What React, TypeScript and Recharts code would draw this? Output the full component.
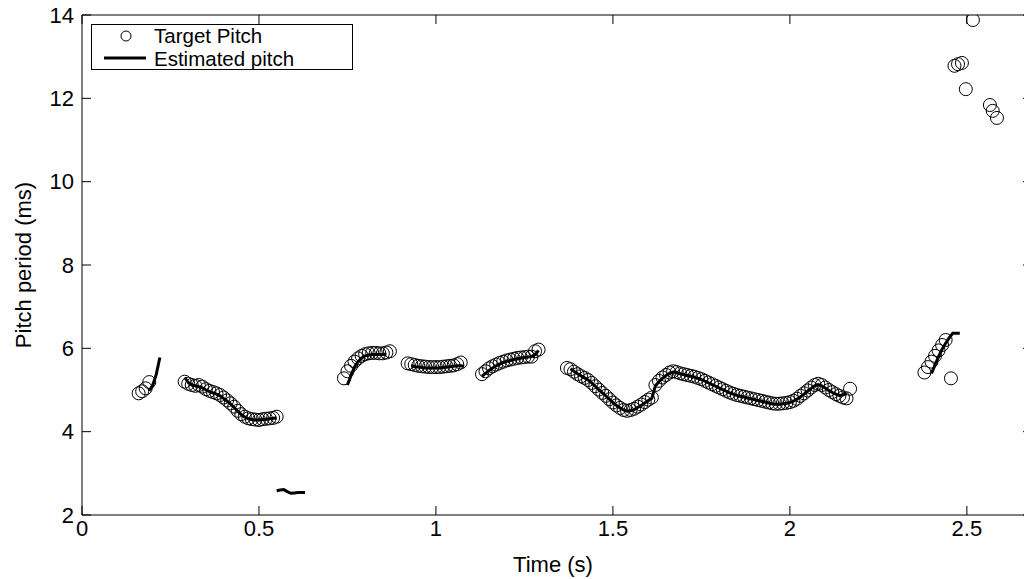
import { ComposedChart, Scatter, Line, XAxis, YAxis, Label } from "recharts"

const FONT = "'Liberation Sans', Arial, Helvetica, sans-serif"
const FRAME = 0.01 // 10 ms analysis hop

const X_MAX = 2.684
const X_TICKS = [0, 0.5, 1, 1.5, 2, 2.5]
const Y_TICKS = [2, 4, 6, 8, 10, 12, 14]

// target pitch (circles), each voiced run starts at a frame time
const target1 = [4.92, 4.97, 5.04, 5.19]
const target2 = [
  5.2, 5.15, 5.12, 5.1, 5.12, 5.08, 5.02, 4.98, 4.95, 4.92, 4.88, 4.82, 4.75, 4.68, 4.6, 4.5, 4.42, 4.36, 4.32,
  4.3, 4.29, 4.28, 4.3, 4.31, 4.32, 4.33, 4.36,
]
const target3 = [5.28, 5.45, 5.58, 5.68, 5.76, 5.82, 5.86, 5.88, 5.89, 5.89, 5.88, 5.88, 5.9, 5.93]
const target4 = [5.64, 5.62, 5.6, 5.58, 5.57, 5.56, 5.55, 5.55, 5.55, 5.55, 5.56, 5.57, 5.58, 5.59, 5.62, 5.66]
const target5 = [5.38, 5.45, 5.52, 5.57, 5.61, 5.65, 5.68, 5.71, 5.73, 5.75, 5.77, 5.78, 5.79, 5.8, 5.8, 5.93, 5.97]
const target6 = [
  5.53, 5.5, 5.44, 5.38, 5.33, 5.29, 5.24, 5.17, 5.09, 5.01, 4.93, 4.86, 4.78, 4.7, 4.63, 4.57, 4.52, 4.5, 4.52,
  4.55, 4.6, 4.65, 4.71, 4.77, 4.82, 5.12, 5.22, 5.3, 5.36, 5.42, 5.45, 5.43, 5.4, 5.38, 5.36, 5.34, 5.32, 5.29,
  5.26, 5.22, 5.18, 5.14, 5.1, 5.06, 5.02, 4.98, 4.94, 4.91, 4.88, 4.86, 4.84, 4.82, 4.8, 4.78, 4.76, 4.74, 4.72,
  4.7, 4.68, 4.67, 4.67, 4.68, 4.69, 4.71, 4.74, 4.79, 4.86, 4.92, 4.99, 5.06, 5.12, 5.15, 5.12, 5.06, 5.0, 4.95,
  4.9, 4.86, 4.82, 4.8, 5.03,
]
const target7 = [5.42, 5.55, 5.68, 5.82, 5.95, 6.08, 6.2]
// octave errors / stray frames at the end
const targetStrayT = [2.455, 2.465, 2.475, 2.486, 2.497, 2.517, 2.565, 2.573, 2.585]
const targetStrayV = [5.28, 12.78, 12.82, 12.85, 12.22, 13.88, 11.84, 11.7, 11.53]

// estimated pitch (solid line)
const est1 = [4.98, 5.12, 5.38, 5.78]
const est2 = [
  5.3, 5.18, 5.12, 5.1, 5.08, 5.05, 5.0, 4.96, 4.93, 4.9, 4.86, 4.8, 4.73, 4.66, 4.58, 4.49, 4.41, 4.35, 4.31, 4.29,
  4.28, 4.28, 4.29, 4.3, 4.31, 4.32, 4.33,
]
const estLow = [2.58, 2.6, 2.61, 2.56, 2.52, 2.53, 2.54, 2.54, 2.54]
const est3 = [5.12, 5.35, 5.55, 5.68, 5.77, 5.82, 5.84, 5.85, 5.85, 5.85, 5.85, 5.86]
const est4 = [5.58, 5.56, 5.55, 5.54, 5.53, 5.53, 5.53, 5.53, 5.53, 5.54, 5.55, 5.56, 5.57, 5.58, 5.58, 5.57]
const est5 = [5.33, 5.4, 5.47, 5.53, 5.58, 5.62, 5.66, 5.69, 5.71, 5.73, 5.75, 5.77, 5.78, 5.79, 5.8, 5.85, 5.95]
const est6 = [
  5.51, 5.45, 5.39, 5.34, 5.29, 5.24, 5.17, 5.09, 5.01, 4.93, 4.86, 4.78, 4.7, 4.63, 4.57, 4.52, 4.49, 4.5, 4.53,
  4.58, 4.63, 4.69, 4.75, 4.8, 5.1, 5.2, 5.28, 5.35, 5.4, 5.43, 5.42, 5.39, 5.37, 5.35, 5.33, 5.31, 5.28, 5.25,
  5.21, 5.17, 5.13, 5.09, 5.05, 5.01, 4.97, 4.93, 4.9, 4.87, 4.85, 4.83, 4.81, 4.79, 4.77, 4.75, 4.73, 4.71, 4.69,
  4.67, 4.66, 4.66, 4.67, 4.68, 4.7, 4.73, 4.78, 4.84, 4.9, 4.97, 5.04, 5.1, 5.13, 5.1, 5.05, 4.99, 4.94, 4.9, 4.87,
  4.88, 4.92,
]
const est7 = [5.4, 5.6, 5.8, 5.98, 6.12, 6.25, 6.36, 6.36, 6.36]

type Pt = { t: number; v: number }

const toPoints = (start: number, values: number[]): Pt[] =>
  values.map((v, i) => ({ t: +(start + i * FRAME).toFixed(3), v }))

const targetPoints: Pt[] = [
  ...toPoints(0.16, target1),
  ...toPoints(0.29, target2),
  ...toPoints(0.74, target3),
  ...toPoints(0.92, target4),
  ...toPoints(1.13, target5),
  ...toPoints(1.37, target6),
  ...toPoints(2.38, target7),
  ...targetStrayT.map((t, i) => ({ t, v: targetStrayV[i] })),
]

const estSegments: Pt[][] = [
  toPoints(0.19, est1),
  toPoints(0.29, est2),
  toPoints(0.55, estLow),
  toPoints(0.75, est3),
  toPoints(0.93, est4),
  toPoints(1.13, est5),
  toPoints(1.38, est6),
  toPoints(2.4, est7),
]

const FS = 22
const axisStyle = { stroke: "#000", strokeWidth: 1 }
const tickStyle = { fill: "#000", fontSize: FS, fontFamily: FONT }

const OpenCircle = (p: any) => <circle cx={p.cx} cy={p.cy} r={6.5} fill="none" stroke="#000" strokeWidth={1} />

function LegendBox() {
  return (
    <svg width={262} height={46} style={{ position: "absolute", left: 91, top: 24, overflow: "visible" }}>
      <rect x={0.5} y={0.5} width={261} height={45} fill="#fff" stroke="#000" />
      <circle cx={35} cy={12} r={5} fill="none" stroke="#000" />
      <text x={63} y={11.5} dominantBaseline="central" fontSize={20.5} fontFamily={FONT} fill="#000">
        Target Pitch
      </text>
      <line x1={13} x2={55} y1={34} y2={34} stroke="#000" strokeWidth={3} />
      <text x={63} y={34} dominantBaseline="central" fontSize={20.5} fontFamily={FONT} fill="#000">
        Estimated pitch
      </text>
    </svg>
  )
}

export default function App() {
  return (
    <div
      style={{
        position: "absolute",
        left: 0,
        top: 0,
        width: 1024,
        height: 579,
        overflow: "hidden",
        background: "#fff",
      }}
    >
      <ComposedChart width={1033} height={579} margin={{ top: 14, right: 0, bottom: 0, left: 0 }}>
        <XAxis
          dataKey="t"
          type="number"
          domain={[0, X_MAX]}
          ticks={X_TICKS}
          allowDataOverflow
          height={64}
          tickSize={-9}
          tickMargin={14}
          axisLine={axisStyle}
          tickLine={axisStyle}
          tick={tickStyle}
        >
          <Label
            content={(props: any) => {
              const { x, y, width, height } = props.viewBox
              return (
                <text x={x + width / 2 - 4} y={y + height - 7} textAnchor="middle" fontSize={FS} fontFamily={FONT} fill="#000">
                  Time (s)
                </text>
              )
            }}
          />
        </XAxis>
        <XAxis
          xAxisId="top"
          orientation="top"
          dataKey="t"
          type="number"
          domain={[0, X_MAX]}
          ticks={X_TICKS}
          allowDataOverflow
          height={1}
          tickSize={-9}
          tickFormatter={() => ""}
          axisLine={axisStyle}
          tickLine={axisStyle}
        />
        <YAxis
          dataKey="v"
          type="number"
          domain={[2, 14]}
          ticks={Y_TICKS}
          allowDataOverflow
          width={82}
          tickSize={-9}
          tickMargin={17}
          axisLine={axisStyle}
          tickLine={axisStyle}
          tick={tickStyle}
        >
          <Label
            content={(props: any) => {
              const { x, y, height } = props.viewBox
              const cx = x + 23
              const cy = y + height / 2
              return (
                <text
                  x={cx}
                  y={cy}
                  transform={`rotate(-90, ${cx}, ${cy})`}
                  textAnchor="middle"
                  dominantBaseline="central"
                  fontSize={FS}
                  fontFamily={FONT}
                  fill="#000"
                >
                  Pitch period (ms)
                </text>
              )
            }}
          />
        </YAxis>
        <YAxis
          yAxisId="right"
          orientation="right"
          dataKey="v"
          type="number"
          domain={[2, 14]}
          ticks={Y_TICKS}
          allowDataOverflow
          width={1}
          tickSize={-9}
          tickFormatter={() => ""}
          axisLine={axisStyle}
          tickLine={axisStyle}
        />
        {estSegments.map((seg, i) => (
          <Line
            key={i}
            data={seg}
            dataKey="v"
            type="linear"
            stroke="#000"
            strokeWidth={3}
            dot={false}
            activeDot={false}
            isAnimationActive={false}
          />
        ))}
        <Scatter data={targetPoints} dataKey="v" shape={OpenCircle} isAnimationActive={false} />
      </ComposedChart>
      <LegendBox />
    </div>
  )
}
